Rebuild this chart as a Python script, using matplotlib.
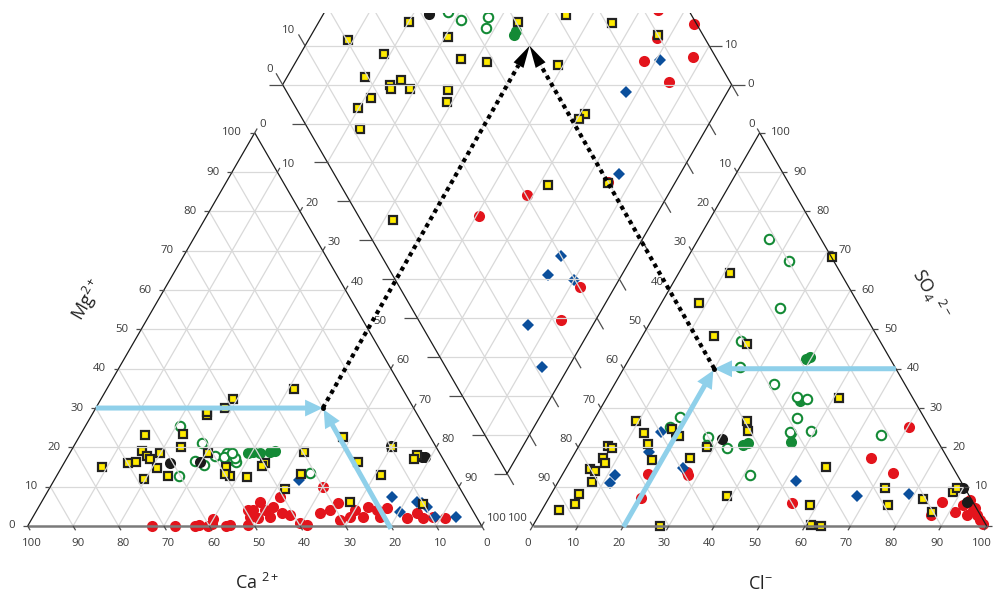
import numpy as np
import matplotlib.pyplot as plt
from matplotlib.patches import FancyArrow, Polygon

plt.rcParams['font.family'] = ['Open Sans', 'DejaVu Sans']
plt.rcParams['mathtext.fontset'] = 'custom'
plt.rcParams['mathtext.rm'] = 'Open Sans'

SIN60 = np.sqrt(3) / 2

# field layout, triangle side = 100
X_ANION = 111.23
DIAMOND_BOTTOM = (105.6, 11.56)
DIAMOND_SIDE = 98.9
XLIM = (-6.1, 213.06)
YLIM = (-14.54, 113.0)

VALUES = list(range(0, 101, 10))

# samples: cation (Ca, Mg) %, anion (Cl, SO4) %, diamond (Ca+Mg, Cl+SO4) %
yellow_cation = [(76.0, 15.1), (62.7, 23.1), (65.3, 19.2), (69.8, 16.1), (68.0, 16.3),
                 (64.9, 17.8), (64.5, 17.1), (61.6, 18.5), (64.1, 14.7), (68.4, 12.0),
                 (62.8, 12.7), (56.1, 20.2), (54.1, 23.3), (46.3, 28.2), (45.9, 29.1),
                 (41.6, 29.9), (38.7, 32.3), (50.9, 18.6), (48.8, 15.1), (49.1, 12.7),
                 (49.9, 13.2), (45.6, 12.4), (19.3, 22.6), (9.6, 20.2), (29.7, 18.7),
                 (39.7, 15.9), (40.8, 15.3), (19.1, 16.2), (33.3, 13.2), (15.7, 13.0),
                 (5.3, 18.1), (6.5, 17.0), (38.6, 9.4), (25.9, 6.2), (10.2, 5.5),
                 (23.9, 34.8)]
yellow_anion = [(9.4, 26.8), (12.8, 23.6), (15.1, 20.8), (17.8, 16.8), (18.4, 24.7),
                (20.8, 22.9), (26.0, 17.2), (28.4, 20.2), (38.9, 7.6), (28.0, 0.0),
                (6.5, 20.3), (7.5, 19.8), (6.8, 17.2), (7.9, 16.1), (5.4, 14.5),
                (6.7, 14.0), (7.6, 11.1), (6.1, 8.1), (6.5, 5.6), (3.8, 4.1),
                (51.2, 32.6), (33.7, 26.8), (35.4, 24.2), (57.0, 15.1), (58.4, 5.3),
                (61.1, 0.3), (63.4, 0.0), (72.9, 9.6), (75.6, 5.3), (82.6, 6.9),
                (86.1, 3.5), (88.3, 8.7), (88.6, 9.6), (31.7, 68.3), (24.2, 46.2),
                (11.3, 64.3), (8.3, 56.7), (15.8, 48.3)]
yellow_diamond = [(79.8, 36.2), (91.1, 20.3), (81.5, 26.5), (69.2, 43.0), (63.6, 43.0),
                  (57.4, 48.4), (82.6, 19.3), (76.0, 23.8), (75.3, 23.5), (74.2, 26.9),
                  (71.1, 27.8), (62.6, 36.1), (61.2, 34.4), (78.7, 18.0), (80.3, 13.7),
                  (77.0, 11.6), (55.6, 60.5), (45.9, 72.1), (34.6, 81.2), (22.7, 90.0),
                  (41.2, 63.9), (28.8, 63.6), (29.5, 61.7), (28.0, 46.2), (58.0, 7.2),
                  (14.9, 59.8)]

red_cation = [(72.7, 0.0), (67.6, 0.0), (63.2, 0.0), (62.1, 0.3), (60.2, 0.0), (59.1, 0.5),
              (56.3, 0.0), (51.4, 0.3), (58.3, 1.7), (49.4, 4.1), (29.9, 10.0), (45.8, 6.1),
              (48.3, 4.1), (49.9, 2.4), (48.2, 2.0), (45.7, 4.1), (43.5, 4.9), (40.7, 7.5),
              (45.5, 2.4), (42.4, 3.2), (40.8, 2.8), (39.7, 0.7), (38.4, 0.3), (55.3, 0.3),
              (34.0, 3.2), (31.4, 4.1), (28.7, 5.8), (30.5, 1.5), (27.8, 2.4), (25.9, 4.1),
              (24.9, 2.4), (22.5, 4.9), (21.1, 4.1), (18.7, 4.5), (21.3, 2.2), (15.5, 2.0),
              (12.7, 3.2), (11.9, 2.0), (9.5, 2.4), (7.1, 2.0)]
red_anion = [(18.9, 13.1), (20.4, 7.0), (27.8, 13.0), (27.0, 13.8), (70.3, 25.1),
             (65.8, 17.4), (72.7, 13.4), (54.2, 5.8), (87.1, 6.0), (86.3, 2.8),
             (91.3, 3.5), (93.0, 6.6), (95.0, 4.1), (96.4, 2.8), (97.8, 1.5),
             (99.0, 0.5), (94.2, 2.8), (92.2, 5.3), (95.2, 4.6)]
red_diamond = [(26.1, 93.1), (16.2, 99.3), (22.6, 89.3), (22.7, 83.5), (12.3, 94.9),
               (14.2, 86.4), (15.0, 60.0), (31.4, 40.2), (39.4, 26.8), (7.8, 40.2),
               (7.8, 31.7)]

green_open_cation = [(53.7, 25.4), (60.3, 12.7), (50.9, 21.2), (54.8, 16.6), (53.4, 15.5),
                     (49.8, 17.8), (46.9, 18.6), (48.0, 17.5), (46.3, 16.8), (45.9, 16.4),
                     (45.7, 17.2), (45.8, 18.5), (31.1, 13.4)]
green_open_anion = [(35.0, 36.1), (41.7, 32.9), (44.3, 32.2), (44.5, 27.5), (44.7, 24.0),
                    (49.3, 24.2), (41.4, 13.0), (65.1, 23.1), (18.5, 27.8), (17.6, 25.3),
                    (27.3, 22.7), (28.0, 20.6), (32.8, 19.8), (15.5, 73.0), (22.8, 67.3),
                    (26.7, 55.5), (25.4, 40.5), (22.4, 47.0)]
green_open_diamond = [(72.6, 46.1), (68.6, 48.0), (63.1, 54.4), (62.0, 52.5)]

green_cation = [(42.2, 18.5), (40.9, 18.9), (37.2, 18.9), (36.0, 19.2), (39.6, 18.6)]
green_anion = [(42.9, 31.9), (46.3, 21.4), (45.2, 23.6), (37.0, 21.0), (36.1, 20.6),
               (39.0, 42.6), (39.5, 43.1)]
green_diamond = [(54.8, 58.0), (54.9, 58.8)]

blue_cation = [(34.5, 11.7), (15.9, 7.5), (16.2, 3.6), (11.2, 6.2), (10.3, 5.8),
               (9.6, 4.8), (9.1, 2.4), (4.6, 2.2)]
blue_anion = [(16.3, 24.0), (16.2, 18.8), (11.6, 13.0), (11.6, 10.9), (25.8, 14.7),
              (52.2, 11.5), (67.7, 7.6), (78.9, 8.1)]
blue_diamond = [(19.1, 87.3), (22.6, 75.5), (13.6, 63.4), (16.0, 40.0), (16.4, 34.6),
                (10.0, 39.8), (14.5, 23.7), (6.0, 21.5)]

black_cation = [(60.8, 15.9), (53.9, 16.4), (4.5, 17.5), (3.7, 17.6), (9.8, 20.4)]
black_anion = [(30.8, 22.0), (20.1, 23.1), (89.9, 9.6), (92.6, 6.0)]
black_diamond = [(76.5, 41.8), (84.6, 35.9)]

# worked example: Ca 20, Mg 30 / Cl 20, SO4 40
example_cation = (20, 30)
example_anion = (20, 40)

GRID = '#d9d9d9'
TICK_COLOR = '#4d4d4d'
LABEL_COLOR = '#3a3a3a'
ARROW_BLUE = '#8fd0ea'


def cation_xy(ca, mg):
    return 100 - ca - mg / 2, mg * SIN60


def anion_xy(cl, so4):
    return X_ANION + cl + so4 / 2, so4 * SIN60


def diamond_xy(camg, clso4):
    a, b = camg / 100, clso4 / 100
    bx, by = DIAMOND_BOTTOM
    return bx + DIAMOND_SIDE * 0.5 * (b - a), by + DIAMOND_SIDE * SIN60 * (a + b)


def line(ax, p0, p1, **kw):
    ax.plot([p0[0], p1[0]], [p0[1], p1[1]], solid_capstyle='butt', **kw)


def tick_row(ax, pts, direction, length, labels=None, offset=(0, 0), ha='center'):
    for i, (x, y) in enumerate(pts):
        line(ax, (x, y), (x + direction[0] * length, y + direction[1] * length),
             color=TICK_COLOR, lw=0.9, zorder=7)
        if labels is None:
            continue
        tx, ty = x + offset[0], y + offset[1]
        # labels that would fall outside the plotting area are left out
        if ty > YLIM[1] or tx > XLIM[1] - 1.5:
            continue
        ax.text(tx, ty, labels[i], ha=ha, va='center', fontsize=8.2, color=LABEL_COLOR)


def triangle_frame(ax, x0):
    for k in range(10, 100, 10):
        line(ax, (x0 + k / 2, k * SIN60), (x0 + 100 - k / 2, k * SIN60), color=GRID, lw=0.9, zorder=6)
        line(ax, (x0 + k, 0), (x0 + k / 2, k * SIN60), color=GRID, lw=0.9, zorder=6)
        line(ax, (x0 + k, 0), (x0 + 50 + k / 2, (100 - k) * SIN60), color=GRID, lw=0.9, zorder=6)
    line(ax, (x0, 0), (x0 + 100, 0), color='#7a7a7a', lw=1.8, zorder=7)
    line(ax, (x0, 0), (x0 + 50, 100 * SIN60), color='#1a1a1a', lw=0.9, zorder=7)
    line(ax, (x0 + 100, 0), (x0 + 50, 100 * SIN60), color='#1a1a1a', lw=0.9, zorder=7)


def diamond_frame(ax):
    bx, by = DIAMOND_BOTTOM
    for k in range(10, 100, 10):
        line(ax, diamond_xy(k, 0), diamond_xy(k, 100), color=GRID, lw=0.9, zorder=6)
        line(ax, diamond_xy(0, k), diamond_xy(100, k), color=GRID, lw=0.9, zorder=6)
    for k in range(1, 20):
        y = by + k * 0.1 * DIAMOND_SIDE * SIN60
        half = 0.05 * DIAMOND_SIDE * min(k, 20 - k)
        line(ax, (bx - half, y), (bx + half, y), color=GRID, lw=0.9, zorder=6)
    corners = [diamond_xy(0, 0), diamond_xy(100, 0), diamond_xy(100, 100),
               diamond_xy(0, 100), diamond_xy(0, 0)]
    ax.plot([c[0] for c in corners], [c[1] for c in corners], color='#1a1a1a', lw=0.9, zorder=7)


fig = plt.figure(figsize=(9.95, 5.92), dpi=100)
ax = fig.add_axes([0, 0, 1, 579 / 592])
ax.set_xlim(*XLIM)
ax.set_ylim(*YLIM)
ax.axis('off')

triangle_frame(ax, 0)
triangle_frame(ax, X_ANION)
diamond_frame(ax)

labels = [str(v) for v in VALUES]
# cation triangle axes
tick_row(ax, [(100 - v, 0) for v in VALUES], (0.5, -SIN60), 1.1, labels, (1.0, -3.85))
tick_row(ax, [(v / 2, v * SIN60) for v in VALUES], (-1, 0), 1.1, labels, (-2.75, 0), 'right')
tick_row(ax, [(50 + v / 2, (100 - v) * SIN60) for v in VALUES], (0.5, SIN60), 1.1,
         labels, (1.1, 1.76), 'left')
# anion triangle axes
tick_row(ax, [(X_ANION + v, 0) for v in VALUES], (-0.5, -SIN60), 1.1, labels, (-1.0, -3.85))
tick_row(ax, [(X_ANION + 100 - v / 2, v * SIN60) for v in VALUES], (1, 0), 1.1,
         labels, (2.4, 0), 'left')
tick_row(ax, [(X_ANION + (100 - v) / 2, (100 - v) * SIN60) for v in VALUES], (-0.5, SIN60), 1.1,
         labels, (-1.1, 1.76), 'right')
# diamond edges
tick_row(ax, [diamond_xy(v, 0) for v in VALUES], (-1, 0), 2.9)
tick_row(ax, [diamond_xy(0, v) for v in VALUES], (0.5, -SIN60), 2.9)
tick_row(ax, [diamond_xy(100, v) for v in VALUES], (-0.5, SIN60), 2.9, labels, (-2.2, 3.3), 'right')
tick_row(ax, [diamond_xy(v, 100) for v in VALUES], (1, 0), 2.9, labels, (3.5, 0), 'left')

# sample groups
styles = [
    (red_cation, red_anion, red_diamond,
     dict(marker='o', ms=8, mfc='#e3141c', mec='#e3141c', mew=0, zorder=3)),
    (blue_cation, blue_anion, blue_diamond,
     dict(marker='D', ms=6.6, mfc='#0b4f9c', mec='#0b4f9c', mew=0, zorder=3.5)),
    (green_cation, green_anion, green_diamond,
     dict(marker='o', ms=8, mfc='#148a36', mec='#148a36', mew=0, zorder=4)),
    (green_open_cation, green_open_anion, green_open_diamond,
     dict(marker='o', ms=6.8, mfc='white', mec='#148a36', mew=1.5, zorder=4.2)),
    (black_cation, black_anion, black_diamond,
     dict(marker='o', ms=8, mfc='#1a1a1a', mec='#1a1a1a', mew=0, zorder=4.4)),
    (yellow_cation, yellow_anion, yellow_diamond,
     dict(marker='s', ms=6.3, mfc='#ffeb00', mec='#222222', mew=1.6, zorder=5)),
]
for cat, an, dia, st in styles:
    ca, mg = np.array(cat).T
    cl, so4 = np.array(an).T
    camg, clso4 = np.array(dia).T
    for x, y in (cation_xy(ca, mg), anion_xy(cl, so4), diamond_xy(camg, clso4)):
        ax.plot(x, y, linestyle='none', **st)

# worked example: read-off arrows
ca0, mg0 = example_cation
cl0, so40 = example_anion
pc = np.array(cation_xy(ca0, mg0))
pa = np.array(anion_xy(cl0, so40))
pd = np.array(diamond_xy(ca0 + mg0, cl0 + so40))

blue_kw = dict(width=1.1, head_width=3.7, head_length=3.9, length_includes_head=True,
               color=ARROW_BLUE, lw=0, zorder=8)
start = np.array([mg0 / 2, mg0 * SIN60])
ax.add_patch(FancyArrow(*start, *(pc - start), **blue_kw))
start = np.array([100 - ca0, -0.6])
end = pc - 0.4 * np.array([-0.5, SIN60])
ax.add_patch(FancyArrow(*start, *(end - start), **blue_kw))
start = np.array([X_ANION + 100 - so40 / 2, so40 * SIN60])
ax.add_patch(FancyArrow(*start, *(pa - start), **blue_kw))
start = np.array([X_ANION + cl0, -0.2])
end = pa - 0.4 * np.array([0.5, SIN60])
ax.add_patch(FancyArrow(*start, *(end - start), **blue_kw))

for p in (pc, pa):
    d = pd - p
    u = d / np.hypot(*d)
    n = np.array([-u[1], u[0]])
    base = pd - 4.9 * u
    ax.plot([p[0], base[0]], [p[1], base[1]], color='black', lw=3,
            linestyle=(0, (1, 1)), dash_capstyle='butt', zorder=9)
    ax.add_patch(Polygon([pd, base + 1.25 * n, base - 1.25 * n], closed=True,
                         color='black', lw=0, zorder=9))
    ax.plot(*p, marker='o', ms=2.5, color='black', zorder=9)

# axis titles
ax.text(13.2, 49.8, r'Mg$^{\mathregular{2+}}$', rotation=60, ha='center', va='center',
        fontsize=13, color='#222222')
ax.text(45.7, -13.9, r'Ca $^{\mathregular{2+}}$', ha='left', va='baseline',
        fontsize=13, color='#222222')
ax.text(158.7, -13.9, r'Cl$^{\mathregular{-}}$', ha='left', va='baseline',
        fontsize=13, color='#222222')
ax.text(199.0, 51.1, r'SO$_{\mathregular{4}}$ $^{\mathregular{2-}}$', rotation=-60,
        ha='center', va='center', fontsize=13, color='#222222')

fig.savefig('out.png', dpi=100)
